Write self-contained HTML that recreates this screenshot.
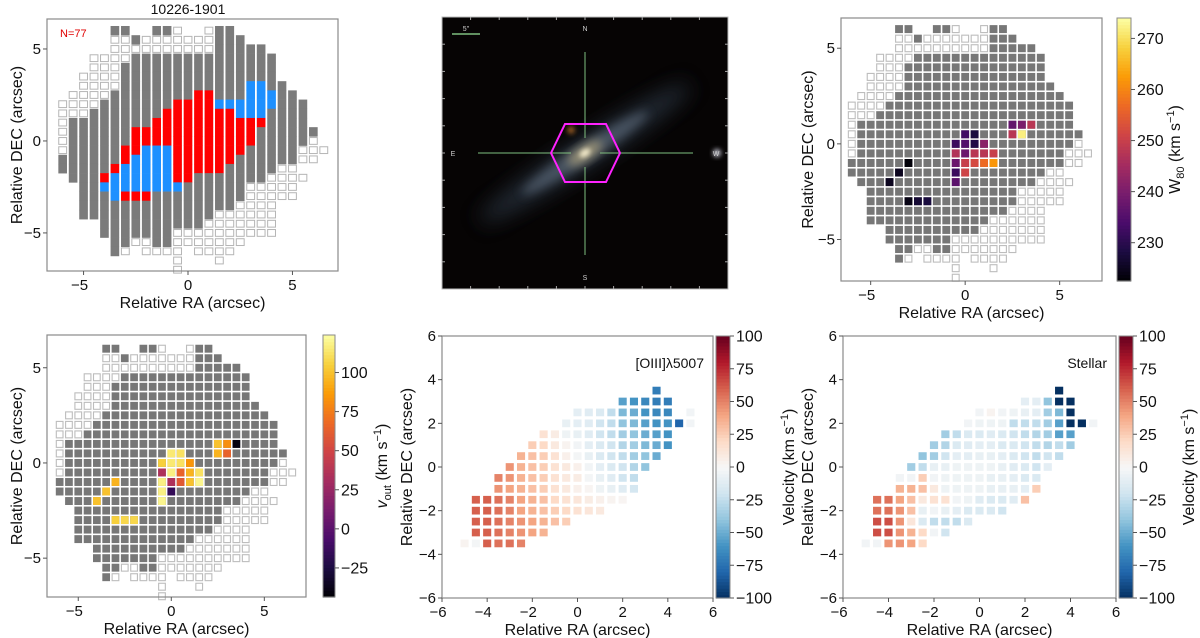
<!DOCTYPE html>
<html><head><meta charset="utf-8">
<style>
html,body{margin:0;padding:0;background:#fff;}
svg{display:block;font-family:"Liberation Sans","DejaVu Sans",sans-serif;}
</style></head>
<body>
<svg id="fig" width="1200" height="638" viewBox="0 0 1200 638" xmlns="http://www.w3.org/2000/svg">
<defs>
  <filter id="blur6" x="-50%" y="-50%" width="200%" height="200%"><feGaussianBlur stdDeviation="10"/></filter>
  <filter id="blur3" x="-50%" y="-50%" width="200%" height="200%"><feGaussianBlur stdDeviation="5"/></filter>
  <filter id="blur1" x="-50%" y="-50%" width="200%" height="200%"><feGaussianBlur stdDeviation="2.5"/></filter>
</defs>
<g id="root"></g>
</svg>
<script>
// ---------- DATA ----------
const colX = [-6,-5.5,-5,-4.5,-4,-3.5,-3,-2.5,-2,-1.5,-1,-0.5,0,0.5,1,1.5,2,2.5,3,3.5,4,4.5,5,5.5,6,6.5];
const colTop = [2,2.5,3.5,4.5,4.5,6,6,5.5,5.5,6,6,6,5.5,5.5,6,6,6,5.5,5,5,4.5,3,2.5,2,0.5,-0.5];
const colCodes = [
 "WWWWWWGG",
 "WWWGGGGGGG",
 "WWWWWGGGGGGGGGGG",
 "WWWWWWGGGGGGGGGGGG",
 "WWWWWGGGGGGGGRBGGGGG",
 "GWWWWWWGGGGGGGGRBBBGGGGGG",
 "GWWWGGGGGGGGGRRBBBRGGGGGW",
 "GWGGGGGGGGRRRBBBBRGGGGW",
 "WWGGGGGGGGRRBBBBBRGGGGWW",
 "GWWGGGGGGGRRRBBBBBGGGGGGW",
 "GWWGGGGGGRRRRBBBBBGGGGGGW",
 "WWWGGGGGRRRRRRRRRBGGGGWWWWW",
 "WWGGGGGRRRRRRRRRGGGGGWW",
 "WWGGGGRRRRRRRRRGGGGGGWWW",
 "WWWGGGGRRRRRRRRRGGGGGWWWW",
 "GGGGGGGGBRRRRRRRGGGGWWWWWW",
 "GGGGGGGGBRRRRRRGGGGGWWWWW",
 "GGGGGGGBBRRRRGGGGGWWWWW",
 "GGGGBBBBRRRGGGGWWWWWW",
 "GGGGBBBBRGGGGGGWWWWWW",
 "GGGGBBGGGGGGGWWWWWWW",
 "GGGGGGGGGWWWW",
 "GGGGGGGGWWWW",
 "GGGGGWW.W",
 "GWWW",
 "W"
];
const nCount = "N=77";
const w80X = [2.5,3,3.5, 0,0.5,2.5,3, -0.5,0,0.5,1, -0.5,0,0.5,1,1.5, -3,-0.5,0,0.5,1,1.5, -3.5,-0.5,0, -4,-0.5, -3,-2.5,-2];
const w80Y = [1,1,1, 0.5,0.5,0.5,0.5, 0,0,0,0, -0.5,-0.5,-0.5,-0.5,-0.5, -1,-1,-1,-1,-1,-1, -1.5,-1.5,-1.5, -2,-2, -3,-3,-3];
const w80V = [237,240,248, 233,228,248,272, 232,235,229,242, 247,238,248,248,250, 223,238,250,252,257,262, 225,232,251, 225,236, 224,227,228];
const w80Ticks = [230,240,250,260,270];
const voutX = [2.5,3,3.5, 0,0.5,2.5,3, -0.5,0,0.5,1, -0.5,0,0.5,1,1.5, -3,-0.5,0,0.5,1,1.5, -3.5,-0.5,0, -4,-0.5, -3,-2.5,-2];
const voutY = [1,1,1, 0.5,0.5,0.5,0.5, 0,0,0,0, -0.5,-0.5,-0.5,-0.5,-0.5, -1,-1,-1,-1,-1,-1, -1.5,-1.5,-1.5, -2,-2, -3,-3,-3];
const voutV = [100,82,-40, 115,112,95,65, 105,115,112,85, 35,118,65,95,112, 95,118,35,60,100,120, 100,118,-15, 100,120, 105,108,108];
const voutTicks = [-25,0,25,50,75,100];
const oiiiRowY = [3.5,3,2.5,2,1.5,1,0.5,0,-0.5,-1,-1.5,-2,-2.5,-3,-3.5];
const oiiiRowX0 = [3.5,2,0,-0.5,-1.5,-2,-2.5,-3,-3.5,-3.5,-4.5,-4.5,-4.5,-4.5,-5];
const oiiiRowV = [
 [-70],
 [-55,-60,-65,-70,-70],
 [-10,-12,-15,-25,-45,-50,-60,-65,-65,null,-3],
 [-8,-10,-12,-20,-25,-40,-45,-55,-60,-60,-80,-3],
 [15,8,-5,-8,-12,-20,-25,-35,-40,-50,-55,-60],
 [25,20,10,3,-3,-10,-15,-20,-30,-35,-45,-50,-60],
 [35,30,25,15,5,-2,-8,-15,-20,-25,-35,-40,-50],
 [45,35,30,25,15,10,5,-3,-10,-15,-20,-30,-40],
 [50,45,35,30,25,15,10,8,-2,-8,-12,-20,-25],
 [45,40,35,30,25,15,10,5,2,-5,-8,-12,-18],
 [60,60,55,50,40,35,30,20,15,12,8,5,3,2],
 [60,60,55,50,40,35,30,25,20,15,12,10],
 [60,60,55,50,45,40,35,30,25],
 [60,60,55,50,45,40,35],
 [3,-2,60,55,55,50]
];
const starRowY = [3.5,3,2.5,2,1.5,1,0.5,0,-0.5,-1,-1.5,-2,-2.5,-3,-3.5];
const starRowX0 = [3.5,2,0,-0.5,-1.5,-2,-2.5,-3,-3.5,-3.5,-4.5,-4.5,-4.5,-4.5,-5];
const starRowV = [
 [-100],
 [-10,-10,-40,-100,-100],
 [-3,3,-3,-5,-8,-10,-35,-45,-100],
 [-3,-5,-5,-5,-25,-25,-25,-35,-55,-100,-100,-3],
 [-35,-25,-15,-15,-12,-15,-20,-25,-30,-35,-55,-55],
 [-35,-30,-15,-12,-10,-10,-15,-15,-20,-25,-30,-25,-35],
 [-40,-35,-20,-10,-10,-8,-8,-10,-15,-20,-25,-20,-25],
 [-35,-25,-8,-8,-5,-5,-5,-5,-8,-12,-15,-20,-10],
 [-3,-3,25,-3,-5,-5,-5,-5,-8,-8,-10,-15,-15],
 [35,35,30,10,-5,-5,-5,-5,-8,-8,-8,-10,25],
 [55,55,40,30,10,15,15,-3,-5,-12,-15,-15,-12,30],
 [55,55,45,30,-8,-3,-8,-10,-15,-15,-15,-20],
 [65,65,45,12,-15,-25,-25,-25,-15],
 [65,65,45,35,20,-3,-20],
 [-3,-3,45,45,40,20]
];
const velTicks = [-100,-75,-50,-25,0,25,50,75,100];
const sq5Ticks = [-5,0,5];
const sq6Ticks = [-6,-4,-2,0,2,4,6];

// ---------- helpers ----------
const NS = "http://www.w3.org/2000/svg";
const root = document.getElementById('root');
function el(tag, attrs, parent){
  const e = document.createElementNS(NS, tag);
  for (const k in attrs) e.setAttribute(k, attrs[k]);
  (parent||root).appendChild(e);
  return e;
}
function hex2rgb(h){return [parseInt(h.substr(1,2),16),parseInt(h.substr(3,2),16),parseInt(h.substr(5,2),16)];}
function cmap(stops, t){
  t = Math.max(0, Math.min(1, t));
  const n = stops.length - 1, f = t*n, i = Math.min(n-1, Math.floor(f)), u = f - i;
  const a = hex2rgb(stops[i]), b = hex2rgb(stops[i+1]);
  return 'rgb(' + [0,1,2].map(k => Math.round(a[k] + (b[k]-a[k])*u)).join(',') + ')';
}
const INFERNO = ['#000004','#1b0c41','#4a0c6b','#781c6d','#a52c60','#cf4446','#ed6925','#fb9b06','#f7d13d','#fcffa4'];
const RDBU = ['#053061','#2166ac','#4393c3','#92c5de','#d1e5f0','#f7f7f7','#fddbc7','#f4a582','#d6604d','#b2182b','#67001f'];

function makeAxes(name, box, xlim, ylim){
  const g = el('g', {});
  
  
  const sx = v => box.x0 + (v - xlim[0]) / (xlim[1]-xlim[0]) * (box.x1-box.x0);
  const sy = v => box.y1 - (v - ylim[0]) / (ylim[1]-ylim[0]) * (box.y1-box.y0);
  return {g, sx, sy, box};
}
function frame(ax, xticks, yticks, xlabel, ylabel, ylabelX){
  const b = ax.box, g = ax.g;
  const f = el('rect', {x:b.x0, y:b.y0, width:b.x1-b.x0, height:b.y1-b.y0, fill:'none', stroke:'#8a8a8a', 'stroke-width':1.2}, g);
  
  
  xticks.forEach(t => {
    const x = ax.sx(t);
    el('line', {x1:x, x2:x, y1:b.y1, y2:b.y1+4, stroke:'#555', 'stroke-width':1}, g);
    const tx = el('text', {x:x-(t<0?4:0), y:b.y1+19, 'font-size':15, 'text-anchor':'middle', fill:'#111'}, g);
    tx.textContent = (t<0?'\u2212':'') + Math.abs(t);
    
    
  });
  yticks.forEach(t => {
    const y = ax.sy(t);
    el('line', {x1:b.x0-4, x2:b.x0, y1:y, y2:y, stroke:'#555', 'stroke-width':1}, g);
    const ty = el('text', {x:b.x0-6, y:y+5, 'font-size':15, 'text-anchor':'end', fill:'#111'}, g);
    ty.textContent = (t<0?'\u2212':'') + Math.abs(t);
    
    
  });
  const xl = el('text', {x:(b.x0+b.x1)/2, y:b.y1+37, 'font-size':16, 'text-anchor':'middle', fill:'#111'}, g);
  xl.textContent = xlabel;
  
  
  const cy = (b.y0+b.y1)/2;
  const yl = el('text', {x:ylabelX, y:cy, 'font-size':16, 'text-anchor':'middle', fill:'#111', transform:'rotate(-90 '+ylabelX+' '+cy+')'}, g);
  yl.textContent = ylabel;
  
  
}
function colorbar(name, x0, x1, y0, y1, vmin, vmax, stops, ticks, labelX, labelHTML){
  const g = el('g', {});
  
  
  const N = 80, h = (y1-y0)/N;
  for (let i=0;i<N;i++){
    el('rect', {x:x0, y:y1-(i+1)*h, width:x1-x0, height:h+0.6, fill:cmap(stops,(i+0.5)/N)}, g);
  }
  el('rect', {x:x0, y:y0, width:x1-x0, height:y1-y0, fill:'none', stroke:'#8a8a8a', 'stroke-width':1}, g);
  ticks.forEach(t => {
    const y = y1 - (t-vmin)/(vmax-vmin)*(y1-y0);
    el('line', {x1:x1, x2:x1+4, y1:y, y2:y, stroke:'#555'}, g);
    const tx = el('text', {x:x1+6, y:y+5.5, 'font-size':16, fill:'#111'}, g);
    tx.textContent = (t<0?'\u2212':'') + Math.abs(t);
    
    
  });
  const cy = (y0+y1)/2;
  const lab = el('text', {x:labelX, y:cy, 'font-size':16, 'text-anchor':'middle', fill:'#111', transform:'rotate(-90 '+labelX+' '+cy+')'}, g);
  lab.innerHTML = labelHTML;
  
  
}

// ---------- Panel 1 ----------
(function(){
  const ax = makeAxes('bin-class-map', {x0:47, x1:338, y0:19, y1:271}, [-6.75,7.18], [-7.07,6.63]);
  const cw = ax.sx(0.5)-ax.sx(0), ch = ax.sy(0)-ax.sy(0.5);
  colX.forEach((x, ci) => {
    const codes = colCodes[ci];
    for (let k=0;k<codes.length;k++){
      const c = codes[k]; if (c==='.') continue;
      const y = colTop[ci] - 0.5*k;
      const px = ax.sx(x)-cw/2, py = ax.sy(y)-ch/2;
      let r;
      if (c==='W') r = el('rect', {x:px+1.3, y:py+1.2, width:cw-2.6, height:ch-2.4, fill:'#fff', stroke:'#b5b5b5', 'stroke-width':1}, ax.g);
      else {
        const fill = c==='G' ? '#7b7b7b' : (c==='R' ? '#ff0000' : '#1e90ff');
        r = el('rect', {x:px+0.9, y:py, width:cw-1.8, height:ch+0.3, fill:fill}, ax.g);
      }
      
      
    }
  });
  frame(ax, sq5Ticks, sq5Ticks, 'Relative RA (arcsec)', 'Relative DEC (arcsec)', 22);
  const t = el('text', {x:188, y:14, 'font-size':14, 'text-anchor':'middle', fill:'#111'}, ax.g);
  t.textContent = '10226-1901';
  
  
  const n = el('text', {x:60, y:37, 'font-size':11, fill:'#e00000'}, ax.g);
  n.textContent = nCount;
  
  
})();

function valueMap(name, box, xlim, ylim, vx, vy, vv, vmin, vmax){
  const ax = makeAxes(name, box, xlim, ylim);
  const cw = ax.sx(0.5)-ax.sx(0), ch = ax.sy(0)-ax.sy(0.5);
  colX.forEach((x, ci) => {
    const codes = colCodes[ci];
    for (let k=0;k<codes.length;k++){
      const c = codes[k]; if (c==='.') continue;
      const y = colTop[ci] - 0.5*k;
      const px = ax.sx(x)-cw/2, py = ax.sy(y)-ch/2;
      let r;
      if (c==='W') r = el('rect', {x:px+1.3, y:py+1.3, width:cw-2.6, height:ch-2.6, fill:'#fff', stroke:'#bdbdbd', 'stroke-width':1.1}, ax.g);
      else r = el('rect', {x:px+0.8, y:py+0.8, width:cw-1.6, height:ch-1.6, fill:'#777777'}, ax.g);
      
      
    }
  });
  vv.forEach((v, i) => {
    const px = ax.sx(vx[i])-cw/2, py = ax.sy(vy[i])-ch/2;
    const r = el('rect', {x:px+0.8, y:py+0.8, width:cw-1.6, height:ch-1.6, fill:cmap(INFERNO,(v-vmin)/(vmax-vmin))}, ax.g);
    
    
  });
  return ax;
}
(function(){
  const ax = valueMap('w80-map', {x0:841, x1:1102, y0:18, y1:281}, [-6.57,7.24], [-7.17,6.58], w80X, w80Y, w80V, 222.5, 274);
  frame(ax, sq5Ticks, sq5Ticks, 'Relative RA (arcsec)', 'Relative DEC (arcsec)', 813);
  colorbar('w80-colorbar', 1117, 1131, 18, 281, 222.5, 274, INFERNO, w80Ticks, 1180, 'W<tspan font-size="11" dy="4">80</tspan><tspan dy="-4"> (km s</tspan><tspan font-size="11" dy="-6">\u22121</tspan><tspan dy="6">)</tspan>');
})();
(function(){
  const ax = valueMap('vout-map', {x0:47, x1:306, y0:335, y1:597}, [-6.68,7.24], [-7.04,6.72], voutX, voutY, voutV, -43.6, 124);
  frame(ax, sq5Ticks, sq5Ticks, 'Relative RA (arcsec)', 'Relative DEC (arcsec)', 22);
  colorbar('vout-colorbar', 323, 335, 335, 597, -43.6, 124, INFERNO, voutTicks, 387, '<tspan font-style="italic">v</tspan><tspan font-size="11" dy="4">out</tspan><tspan dy="-4"> (km s</tspan><tspan font-size="11" dy="-6">\u22121</tspan><tspan dy="6">)</tspan>');
})();

function velMap(name, box, rowY, rowX0, rowV, label, labelX){
  const ax = makeAxes(name, box, [-6,6], [-6,6]);
  const cw = ax.sx(0.5)-ax.sx(0), ch = ax.sy(0)-ax.sy(0.5);
  rowV.forEach((vals, ri) => {
    vals.forEach((v, k) => {
      if (v===null) return;
      const x = rowX0[ri] + 0.5*k, y = rowY[ri];
      const r = el('rect', {x:ax.sx(x)-cw/2+1.6, y:ax.sy(y)-ch/2+1.6, width:cw-3.2, height:ch-3.2, fill:cmap(RDBU,(v+100)/200)}, ax.g);
      
      
    });
  });
  frame(ax, sq6Ticks, sq6Ticks, 'Relative RA (arcsec)', 'Relative DEC (arcsec)', labelX);
  const t = el('text', {x:box.x1-9, y:368, 'font-size':14, 'text-anchor':'end', fill:'#111'}, ax.g);
  t.textContent = label;
  
  
  return ax;
}
velMap('oiii-velocity-map', {x0:442, x1:713, y0:336, y1:598}, oiiiRowY, oiiiRowX0, oiiiRowV, '[OIII]\u03bb5007', 412);
colorbar('oiii-velocity-colorbar', 716, 730, 336, 598, -100, 100, RDBU, velTicks, 794, 'Velocity (km s<tspan font-size="11" dy="-6">\u22121</tspan><tspan dy="6">)</tspan>');
velMap('stellar-velocity-map', {x0:843, x1:1116, y0:336, y1:598}, starRowY, starRowX0, starRowV, 'Stellar', 813);
colorbar('stellar-velocity-colorbar', 1119, 1133, 336, 598, -100, 100, RDBU, velTicks, 1194, 'Velocity (km s<tspan font-size="11" dy="-6">\u22121</tspan><tspan dy="6">)</tspan>');

// ---------- SDSS image ----------
(function(){
  const g = el('g', {});
  
  
  const x0=442, x1=728, y0=17, y1=289, cx=585, cy=153;
  el('rect', {x:x0, y:y0, width:x1-x0, height:y1-y0, fill:'#060404', stroke:'#bbb', 'stroke-width':1}, g);
  const gal = el('g', {transform:'rotate(-33 '+cx+' '+cy+')'}, g);
  
  
  el('ellipse', {cx:cx, cy:cy, rx:125, ry:15, fill:'#2e3a48', opacity:0.7, filter:'url(#blur6)'}, gal);
  el('ellipse', {cx:cx, cy:cy, rx:75, ry:9, fill:'#5a6878', opacity:0.7, filter:'url(#blur3)'}, gal);
  el('ellipse', {cx:cx, cy:cy, rx:20, ry:7, fill:'#a89c78', opacity:0.85, filter:'url(#blur3)'}, gal);
  el('ellipse', {cx:cx, cy:cy, rx:6, ry:3.5, fill:'#f4eccc', filter:'url(#blur1)'}, gal);
  el('circle', {cx:571, cy:130, r:4, fill:'#8a5420', filter:'url(#blur1)'}, g);
  el('circle', {cx:717, cy:153, r:4, fill:'#bbbbc8', filter:'url(#blur1)'}, g);
  for (let i=1;i<10;i++){
    const tx = x0 + i*(x1-x0)/10, ty = y0 + i*(y1-y0)/10;
    el('line', {x1:tx, x2:tx, y1:y0, y2:y0+3, stroke:'#aaa'}, g);
    el('line', {x1:tx, x2:tx, y1:y1-3, y2:y1, stroke:'#aaa'}, g);
    el('line', {x1:x0, x2:x0+3, y1:ty, y2:ty, stroke:'#aaa'}, g);
    el('line', {x1:x1-3, x2:x1, y1:ty, y2:ty, stroke:'#aaa'}, g);
  }
  const cross = el('g', {stroke:'#7fbf7f', 'stroke-width':1}, g);
  
  
  el('line', {x1:478, x2:571, y1:cy, y2:cy}, cross);
  el('line', {x1:600, x2:693, y1:cy, y2:cy}, cross);
  el('line', {x1:cx, x2:cx, y1:52, y2:138}, cross);
  el('line', {x1:cx, x2:cx, y1:167, y2:255}, cross);
  el('line', {x1:452, x2:480, y1:34, y2:34, stroke:'#7fbf7f', 'stroke-width':1.5}, g);
  const sb = el('text', {x:466, y:31, 'font-size':7, 'text-anchor':'middle', fill:'#ccc'}, g);
  sb.textContent = '5"';
  
  
  [['N',585,31],['S',585,280],['E',453,156],['W',716,156]].forEach(d => {
    const t = el('text', {x:d[1], y:d[2], 'font-size':7, 'text-anchor':'middle', fill:'#ccc'}, g);
    t.textContent = d[0];
    
    
  });
  const hex = el('polygon', {points:'551,153 565,124 606,124 620,153 606,182 565,182', fill:'none', stroke:'#ff22ff', 'stroke-width':2}, g);
  
  
})();
</script>
</body></html>
